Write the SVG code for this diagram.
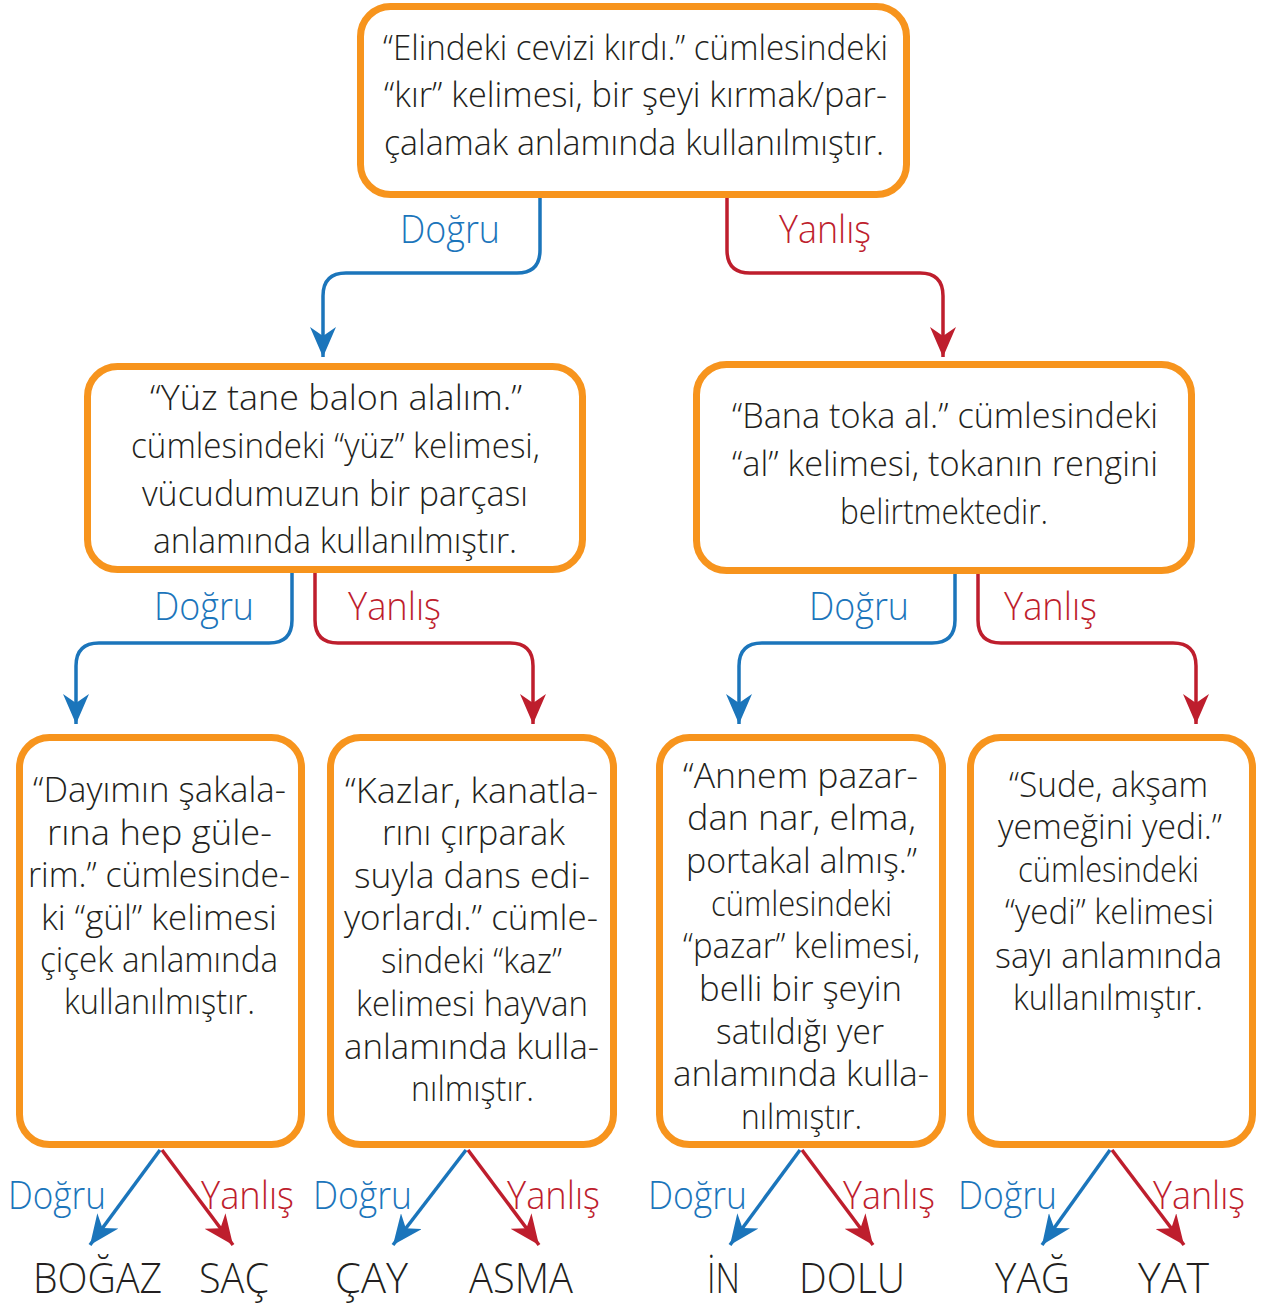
<svg xmlns="http://www.w3.org/2000/svg" width="1271" height="1306" viewBox="0 0 1271 1306">
<style>
.box{fill:#fff;stroke:#F7941D;stroke-width:7}
.t{font-family:"Open Sans",Lato,"Liberation Sans",sans-serif;font-weight:300;font-size:34px;fill:#231F20}
.w{font-family:"Open Sans",Lato,"Liberation Sans",sans-serif;font-weight:300;font-size:42px;fill:#231F20}
.d{font-family:"Open Sans",Lato,"Liberation Sans",sans-serif;font-weight:300;font-size:38px;fill:#1B75BB}
.y{font-family:"Open Sans",Lato,"Liberation Sans",sans-serif;font-weight:300;font-size:38px;fill:#BE1E2D}
.cb{fill:none;stroke:#1B75BB;stroke-width:3.5;marker-end:url(#ab)}
.cr{fill:none;stroke:#BE1E2D;stroke-width:3.5;marker-end:url(#ar)}
</style>
<defs>
<marker id="ab" viewBox="0 0 30 26" refX="30" refY="13" markerWidth="30" markerHeight="26" markerUnits="userSpaceOnUse" orient="auto"><path d="M0,0 L30,13 L0,26 L9,13 Z" fill="#1B75BB"/></marker>
<marker id="ar" viewBox="0 0 30 26" refX="30" refY="13" markerWidth="30" markerHeight="26" markerUnits="userSpaceOnUse" orient="auto"><path d="M0,0 L30,13 L0,26 L9,13 Z" fill="#BE1E2D"/></marker>
</defs>
<rect width="1271" height="1306" fill="#fff"/>
<g id="connectors">
<path class="cb" d="M540,198 V250 Q540,273 517,273 H346 Q323,273 323,296 V357"/>
<path class="cr" d="M727,198 V250 Q727,273 750,273 H920 Q943,273 943,296 V357"/>
<path class="cb" d="M292,573 V620 Q292,643 269,643 H99 Q76,643 76,666 V724"/>
<path class="cr" d="M315,573 V620 Q315,643 338,643 H510 Q533,643 533,666 V724"/>
<path class="cb" d="M955,574 V620 Q955,643 932,643 H762 Q739,643 739,666 V724"/>
<path class="cr" d="M978,574 V620 Q978,643 1001,643 H1173 Q1196,643 1196,666 V724"/>
<path class="cb" d="M160,1150 L90,1245"/>
<path class="cr" d="M162,1150 L233,1245"/>
<path class="cb" d="M466,1150 L393,1245"/>
<path class="cr" d="M468,1150 L539,1245"/>
<path class="cb" d="M800,1150 L730,1245"/>
<path class="cr" d="M802,1150 L873,1245"/>
<path class="cb" d="M1110,1150 L1042,1245"/>
<path class="cr" d="M1112,1150 L1184,1245"/>
<text class="d" x="400" y="243" textLength="100" lengthAdjust="spacingAndGlyphs">Doğru</text>
<text class="y" x="779" y="243" textLength="92" lengthAdjust="spacingAndGlyphs">Yanlış</text>
<text class="d" x="154" y="620" textLength="100" lengthAdjust="spacingAndGlyphs">Doğru</text>
<text class="y" x="348" y="620" textLength="93" lengthAdjust="spacingAndGlyphs">Yanlış</text>
<text class="d" x="809" y="620" textLength="100" lengthAdjust="spacingAndGlyphs">Doğru</text>
<text class="y" x="1004" y="620" textLength="93" lengthAdjust="spacingAndGlyphs">Yanlış</text>
<text class="d" x="8" y="1209" textLength="98" lengthAdjust="spacingAndGlyphs">Doğru</text>
<text class="y" x="201" y="1209" textLength="93" lengthAdjust="spacingAndGlyphs">Yanlış</text>
<text class="d" x="313" y="1209" textLength="99" lengthAdjust="spacingAndGlyphs">Doğru</text>
<text class="y" x="507" y="1209" textLength="93" lengthAdjust="spacingAndGlyphs">Yanlış</text>
<text class="d" x="648" y="1209" textLength="99" lengthAdjust="spacingAndGlyphs">Doğru</text>
<text class="y" x="843" y="1209" textLength="92" lengthAdjust="spacingAndGlyphs">Yanlış</text>
<text class="d" x="958" y="1209" textLength="99" lengthAdjust="spacingAndGlyphs">Doğru</text>
<text class="y" x="1153" y="1209" textLength="92" lengthAdjust="spacingAndGlyphs">Yanlış</text>
</g>
<g id="n-top">
<rect class="box" x="360.5" y="6.5" width="546" height="188" rx="30"/>
<text class="t" x="383" y="60" textLength="505" lengthAdjust="spacingAndGlyphs">“Elindeki cevizi kırdı.” cümlesindeki</text>
<text class="t" x="384" y="107" textLength="503" lengthAdjust="spacingAndGlyphs">“kır” kelimesi, bir şeyi kırmak/par-</text>
<text class="t" x="384" y="155" textLength="500" lengthAdjust="spacingAndGlyphs">çalamak anlamında kullanılmıştır.</text>
</g>
<g id="n-ml">
<rect class="box" x="87.5" y="366.5" width="495" height="203" rx="30"/>
<text class="t" x="150" y="410" textLength="372" lengthAdjust="spacingAndGlyphs">“Yüz tane balon alalım.”</text>
<text class="t" x="131" y="458" textLength="409" lengthAdjust="spacingAndGlyphs">cümlesindeki “yüz” kelimesi,</text>
<text class="t" x="142" y="506" textLength="386" lengthAdjust="spacingAndGlyphs">vücudumuzun bir parçası</text>
<text class="t" x="153" y="553" textLength="364" lengthAdjust="spacingAndGlyphs">anlamında kullanılmıştır.</text>
</g>
<g id="n-mr">
<rect class="box" x="696.5" y="364.5" width="495" height="206" rx="30"/>
<text class="t" x="732" y="428" textLength="426" lengthAdjust="spacingAndGlyphs">“Bana toka al.” cümlesindeki</text>
<text class="t" x="732" y="476" textLength="426" lengthAdjust="spacingAndGlyphs">“al” kelimesi, tokanın rengini</text>
<text class="t" x="840" y="524" textLength="208" lengthAdjust="spacingAndGlyphs">belirtmektedir.</text>
</g>
<g id="n-b1">
<rect class="box" x="19.5" y="737.5" width="282" height="407" rx="30"/>
<text class="t" x="33" y="802" textLength="253" lengthAdjust="spacingAndGlyphs">“Dayımın şakala-</text>
<text class="t" x="47" y="845" textLength="225" lengthAdjust="spacingAndGlyphs">rına hep güle-</text>
<text class="t" x="28" y="887" textLength="262" lengthAdjust="spacingAndGlyphs">rim.” cümlesinde-</text>
<text class="t" x="41" y="930" textLength="236" lengthAdjust="spacingAndGlyphs">ki “gül” kelimesi</text>
<text class="t" x="40" y="972" textLength="238" lengthAdjust="spacingAndGlyphs">çiçek anlamında</text>
<text class="t" x="64" y="1014" textLength="191" lengthAdjust="spacingAndGlyphs">kullanılmıştır.</text>
</g>
<g id="n-b2">
<rect class="box" x="330.5" y="737.5" width="283" height="407" rx="30"/>
<text class="t" x="345" y="803" textLength="253" lengthAdjust="spacingAndGlyphs">“Kazlar, kanatla-</text>
<text class="t" x="382" y="845" textLength="183" lengthAdjust="spacingAndGlyphs">rını çırparak</text>
<text class="t" x="354" y="888" textLength="236" lengthAdjust="spacingAndGlyphs">suyla dans edi-</text>
<text class="t" x="344" y="930" textLength="254" lengthAdjust="spacingAndGlyphs">yorlardı.” cümle-</text>
<text class="t" x="381" y="973" textLength="181" lengthAdjust="spacingAndGlyphs">sindeki “kaz”</text>
<text class="t" x="356" y="1016" textLength="232" lengthAdjust="spacingAndGlyphs">kelimesi hayvan</text>
<text class="t" x="344" y="1059" textLength="255" lengthAdjust="spacingAndGlyphs">anlamında kulla-</text>
<text class="t" x="411" y="1101" textLength="123" lengthAdjust="spacingAndGlyphs">nılmıştır.</text>
</g>
<g id="n-b3">
<rect class="box" x="659.5" y="737.5" width="283" height="407" rx="30"/>
<text class="t" x="683" y="788" textLength="235" lengthAdjust="spacingAndGlyphs">“Annem pazar-</text>
<text class="t" x="687" y="830" textLength="229" lengthAdjust="spacingAndGlyphs">dan nar, elma,</text>
<text class="t" x="686" y="873" textLength="231" lengthAdjust="spacingAndGlyphs">portakal almış.”</text>
<text class="t" x="711" y="916" textLength="181" lengthAdjust="spacingAndGlyphs">cümlesindeki</text>
<text class="t" x="683" y="958" textLength="237" lengthAdjust="spacingAndGlyphs">“pazar” kelimesi,</text>
<text class="t" x="699" y="1001" textLength="203" lengthAdjust="spacingAndGlyphs">belli bir şeyin</text>
<text class="t" x="716" y="1044" textLength="168" lengthAdjust="spacingAndGlyphs">satıldığı yer</text>
<text class="t" x="673" y="1086" textLength="256" lengthAdjust="spacingAndGlyphs">anlamında kulla-</text>
<text class="t" x="741" y="1129" textLength="121" lengthAdjust="spacingAndGlyphs">nılmıştır.</text>
</g>
<g id="n-b4">
<rect class="box" x="970.5" y="737.5" width="282" height="407" rx="30"/>
<text class="t" x="1009" y="797" textLength="199" lengthAdjust="spacingAndGlyphs">“Sude, akşam</text>
<text class="t" x="998" y="839" textLength="224" lengthAdjust="spacingAndGlyphs">yemeğini yedi.”</text>
<text class="t" x="1018" y="882" textLength="181" lengthAdjust="spacingAndGlyphs">cümlesindeki</text>
<text class="t" x="1005" y="924" textLength="209" lengthAdjust="spacingAndGlyphs">“yedi” kelimesi</text>
<text class="t" x="995" y="968" textLength="227" lengthAdjust="spacingAndGlyphs">sayı anlamında</text>
<text class="t" x="1013" y="1010" textLength="190" lengthAdjust="spacingAndGlyphs">kullanılmıştır.</text>
</g>
<g id="answers">
<text class="w" x="33" y="1293" textLength="129" lengthAdjust="spacingAndGlyphs">BOĞAZ</text>
<text class="w" x="199" y="1293" textLength="70" lengthAdjust="spacingAndGlyphs">SAÇ</text>
<text class="w" x="335" y="1293" textLength="73" lengthAdjust="spacingAndGlyphs">ÇAY</text>
<text class="w" x="469" y="1293" textLength="104" lengthAdjust="spacingAndGlyphs">ASMA</text>
<text class="w" x="707" y="1293" textLength="33" lengthAdjust="spacingAndGlyphs">İN</text>
<text class="w" x="799" y="1293" textLength="106" lengthAdjust="spacingAndGlyphs">DOLU</text>
<text class="w" x="995" y="1293" textLength="75" lengthAdjust="spacingAndGlyphs">YAĞ</text>
<text class="w" x="1138" y="1293" textLength="71" lengthAdjust="spacingAndGlyphs">YAT</text>
</g>
</svg>
